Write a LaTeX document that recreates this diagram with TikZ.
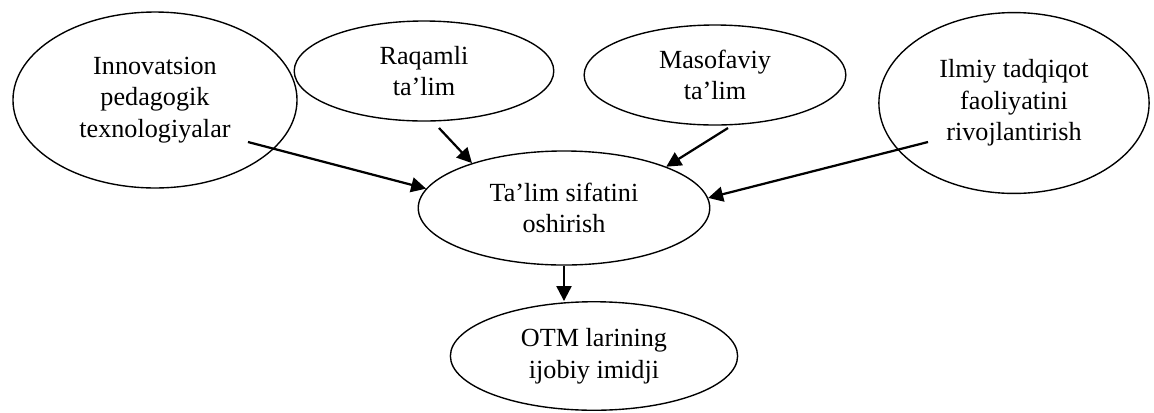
\documentclass[tikz,border=0pt]{standalone}
\usepackage{fontspec}
\setmainfont{Liberation Serif}
\usetikzlibrary{shapes.geometric,arrows.meta}
\tikzset{oval/.style={ellipse, draw, line width=0.65pt, inner sep=0pt, align=center, font=\fontsize{12.3}{14.8}\selectfont}, link/.style={-{Triangle[length=7pt,width=7pt]}, line width=1.05pt}}

\begin{document}
\begin{tikzpicture}[x=0.47pt,y=-0.47pt]
    \useasboundingbox[fill=white] (0,0) rectangle (1154,412);
    \node[oval, minimum width=133.5pt, minimum height=82.7pt] (inno) at (155,100) {Innovatsion\\pedagogik\\texnologiyalar};
    \node[oval, minimum width=122pt, minimum height=47pt] (raqam) at (424,71) {Raqamli\\ta’lim};
    \node[oval, minimum width=123pt, minimum height=47pt] (masof) at (715,75) {Masofaviy\\ta’lim};
    \node[oval, minimum width=127pt, minimum height=85pt] (ilmiy) at (1014,103) {Ilmiy tadqiqot\\faoliyatini\\rivojlantirish};
    \node[oval, minimum width=137pt, minimum height=53.6pt] (sifat) at (564,208) {Ta’lim sifatini\\oshirish};
    \node[oval, minimum width=135pt, minimum height=51pt] (otm) at (594,356) {OTM larining\\ijobiy imidji};
    % free ends of the arrows
    \coordinate (s1) at (248,142);
    \coordinate (s2) at (439,128);
    \coordinate (s3) at (728,128);
    \coordinate (s4) at (928,142);
    \draw[link] (s1) -- (sifat.172);
    \draw[link] (s2) -- (sifat.154);
    \draw[link] (s3) -- (sifat.22);
    \draw[link] (s4) -- (sifat.4);
    \draw[link] (sifat.south) -- (sifat.south |- otm.north);
\end{tikzpicture}
\end{document}
